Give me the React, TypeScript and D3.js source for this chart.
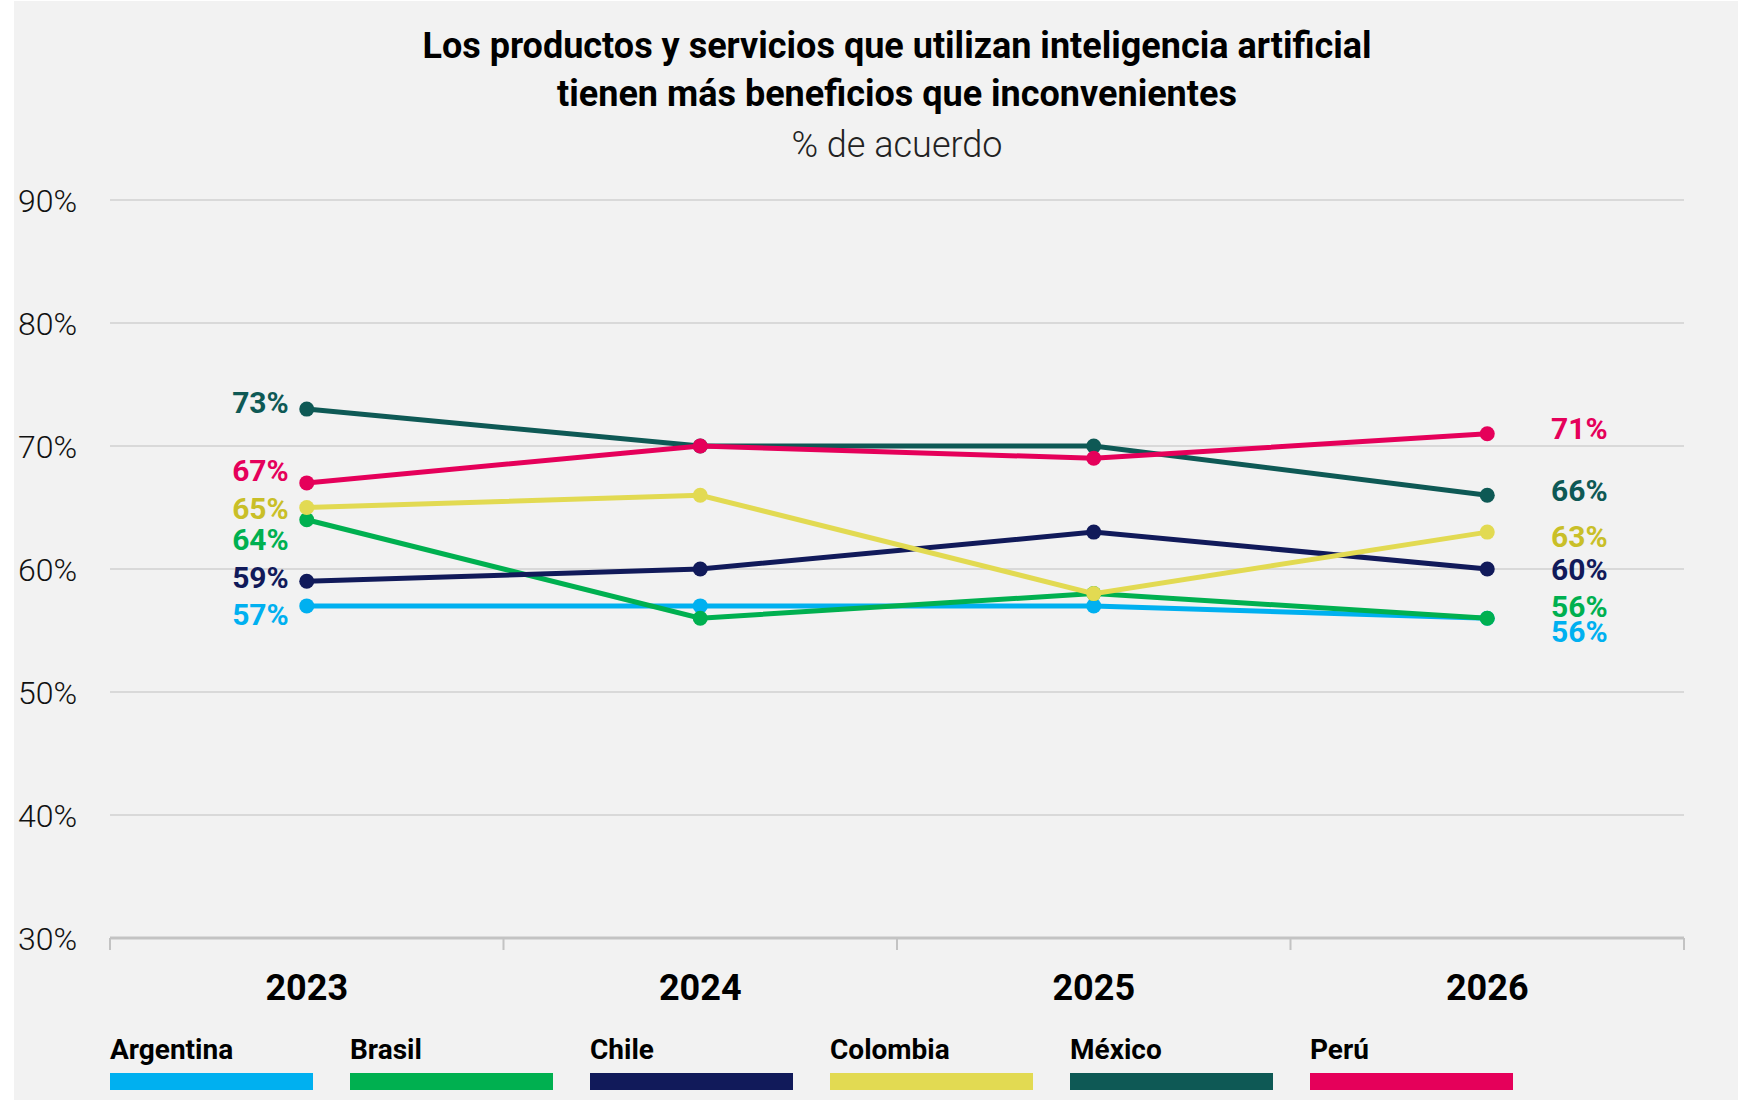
import * as d3 from 'd3'

const years = ['2023', '2024', '2025', '2026']
const yTicks = [30, 40, 50, 60, 70, 80, 90]

const countries = ['Argentina', 'Brasil', 'Chile', 'Colombia', 'México', 'Perú']
const argentina = [57, 57, 57, 56]
const brasil = [64, 56, 58, 56]
const chile = [59, 60, 63, 60]
const colombia = [65, 66, 58, 63]
const mexico = [73, 70, 70, 66]
const peru = [67, 70, 69, 71]

const lineColors = ['#00b0f0', '#00b050', '#111a5a', '#e2da52', '#0e5955', '#e5005a']
const labelColors = ['#00b0f0', '#00b050', '#111a5a', '#c9bf28', '#0e5955', '#e5005a']

// manual nudges so the end labels don't collide (baseline offset from the point)
const leftDy = [19, 30, 7, 11, 4, -2]
const rightDy = [24, -1, 11, 15, 6, 5]

const W = 1752
const H = 1100
const X0 = 110
const X1 = 1684
const Y_TOP = 200
const Y_BOT = 938
const FONT = 'Roboto, "Noto Sans", sans-serif'

function App() {
  const series = [argentina, brasil, chile, colombia, mexico, peru]

  const x = d3.scalePoint().domain(years).range([X0, X1]).padding(0.5)
  const band = d3.scaleBand().domain(years).range([X0, X1])
  const y = d3.scaleLinear().domain([30, 90]).range([Y_BOT, Y_TOP])

  const line = d3
    .line<number>()
    .x((_, i) => x(years[i]) as number)
    .y((d) => y(d))

  const first = years[0]
  const last = years[years.length - 1]
  const legendStep = 240

  return (
    <svg
      width={W}
      height={H}
      style={{ position: 'absolute', left: 0, top: 0, fontFamily: FONT }}
    >
      <rect x={0} y={0} width={W} height={H} fill="#ffffff" />
      <rect x={14} y={1} width={1724} height={H - 1} fill="#f2f2f2" />

      {/* title */}
      <text x={897} y={58} textAnchor="middle" fontSize={36} fontWeight={700} fill="#000">
        Los productos y servicios que utilizan inteligencia artificial
      </text>
      <text x={897} y={106} textAnchor="middle" fontSize={36} fontWeight={700} fill="#000">
        tienen más beneficios que inconvenientes
      </text>
      <text x={897} y={157} textAnchor="middle" fontSize={36} fontWeight={300} fill="#222">
        % de acuerdo
      </text>

      {/* grid + y labels */}
      {yTicks.map((t) => (
        <g key={t}>
          {t > 30 && (
            <line x1={X0} x2={X1} y1={y(t)} y2={y(t)} stroke="#d9d9d9" strokeWidth={2} />
          )}
          <text x={18} y={y(t) + 12} fontSize={32} fontWeight={300} fill="#111">
            {t}%
          </text>
        </g>
      ))}

      {/* x axis */}
      <line x1={X0} x2={X1} y1={Y_BOT} y2={Y_BOT} stroke="#c3c3c3" strokeWidth={3} />
      {[...years.map((yr) => band(yr) as number), X1].map((tx, i) => (
        <line key={i} x1={tx} x2={tx} y1={Y_BOT} y2={Y_BOT + 12} stroke="#c3c3c3" strokeWidth={2} />
      ))}
      {years.map((yr) => (
        <text key={yr} x={x(yr)} y={1000} textAnchor="middle" fontSize={36} fontWeight={700} fill="#000">
          {yr}
        </text>
      ))}

      {/* lines */}
      {series.map((s, i) => (
        <g key={countries[i]}>
          <path d={line(s) || ''} fill="none" stroke={lineColors[i]} strokeWidth={5} />
          {s.map((v, j) => (
            <circle key={j} cx={x(years[j])} cy={y(v)} r={7.5} fill={lineColors[i]} />
          ))}
        </g>
      ))}

      {/* end labels */}
      {series.map((s, i) => (
        <g key={'lab' + i} fontSize={30} fontWeight={700} fill={labelColors[i]}>
          <text x={(x(first) as number) - 18} y={y(s[0]) + leftDy[i]} textAnchor="end">
            {s[0]}%
          </text>
          <text x={(x(last) as number) + 92} y={y(s[s.length - 1]) + rightDy[i]} textAnchor="middle">
            {s[s.length - 1]}%
          </text>
        </g>
      ))}

      {/* legend */}
      {countries.map((c, i) => (
        <g key={c} transform={`translate(${X0 + i * legendStep},0)`}>
          <text x={0} y={1059} fontSize={28} fontWeight={700} fill="#000">
            {c}
          </text>
          <rect x={0} y={1073} width={203} height={17} fill={lineColors[i]} />
        </g>
      ))}
    </svg>
  )
}

export default App
